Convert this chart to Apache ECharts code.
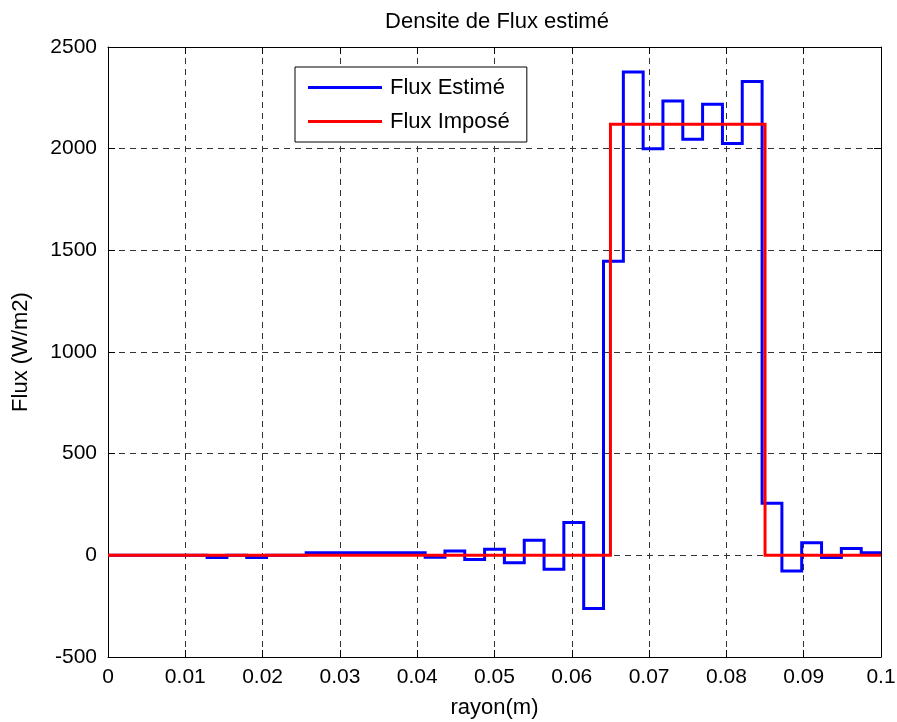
<!DOCTYPE html>
<html>
<head>
<meta charset="utf-8">
<script src="https://cdn.jsdelivr.net/npm/echarts@6/dist/echarts.min.js"></script>
<style>html,body{margin:0;padding:0;background:#fff;}#c{width:897px;height:722px;}</style>
</head>
<body>
<div id="c"></div>
<script>
// Step edges (m) for the estimated flux
const edgesEst = [0, 0.00256, 0.00513, 0.00769, 0.01026, 0.01282, 0.01538, 0.01795, 0.02051, 0.02308,
  0.02564, 0.02821, 0.03077, 0.03333, 0.03590, 0.03846, 0.04103, 0.04359, 0.04615, 0.04872,
  0.05128, 0.05385, 0.05641, 0.05897, 0.06154, 0.06410, 0.06667, 0.06923, 0.07179, 0.07436,
  0.07692, 0.07949, 0.08205, 0.08462, 0.08718, 0.08974, 0.09231, 0.09487, 0.09744, 0.1];
// Estimated flux per step (W/m2)
const fluxEst = [0, 0, 0, 0, 0, -11, 0, -11, 0, 0,
  13, 13, 13, 13, 13, 13, -10, 21, -20, 30,
  -36, 74, -69, 161, -261, 1446, 2377, 2000, 2235, 2046,
  2218, 2025, 2330, 256, -77, 62, -11, 33, 13];
// Imposed flux
const edgesImp = [0, 0.065, 0.085, 0.1];
const fluxImp = [0, 2120, 0];

const xTicks = [0, 0.01, 0.02, 0.03, 0.04, 0.05, 0.06, 0.07, 0.08, 0.09, 0.1];
const yTicks = [-500, 0, 500, 1000, 1500, 2000, 2500];

function stairs(edges, vals) {
  const pts = [];
  for (let i = 0; i < vals.length; i++) {
    pts.push([edges[i], vals[i]]);
    pts.push([edges[i + 1], vals[i]]);
  }
  return pts;
}

const FONT = 'Liberation Sans';
const FS = 22;     // title, legend, axis names
const FST = 21;    // tick labels
const grid = { left: 108, right: 16, top: 47, bottom: 65, containLabel: false, outerBoundsMode: 'none' };
const dash = { color: '#333', width: 1, type: [6, 5] };

const chart = echarts.init(document.getElementById('c'), null, { renderer: 'canvas' });
chart.setOption({
  backgroundColor: '#fff',
  animation: false,
  textStyle: { fontFamily: FONT, color: '#000' },
  title: {
    text: 'Densite de Flux estimé',
    left: 492, top: 6, textAlign: 'center',
    textStyle: { fontFamily: FONT, fontSize: FS, fontWeight: 'normal', color: '#000' }
  },
  grid: grid,
  legend: {
    orient: 'vertical',
    left: 295, top: 67,
    padding: [9, 17, 9, 13],
    itemGap: 11,
    itemWidth: 74, itemHeight: 3,
    icon: 'rect',
    borderColor: '#000', borderWidth: 1, backgroundColor: '#fff',
    textStyle: { fontFamily: FONT, fontSize: FS, color: '#000', lineHeight: 23, padding: [0, 0, 0, 3] },
    data: ['Flux Estimé', 'Flux Imposé']
  },
  xAxis: [{
    type: 'value', min: xTicks[0], max: xTicks[xTicks.length - 1], interval: 0.01,
    position: 'bottom',
    name: 'rayon(m)', nameLocation: 'middle', nameGap: 40,
    nameTextStyle: { fontFamily: FONT, fontSize: FS, color: '#000' },
    axisLine: { show: true, onZero: false, lineStyle: { color: '#000', width: 1 } },
    axisTick: { show: true, inside: true, length: 7, lineStyle: { color: '#000' } },
    axisLabel: { fontFamily: FONT, fontSize: FST, color: '#000', margin: 10,
      formatter: v => String(+v.toFixed(2)) },
    splitLine: { show: true, lineStyle: dash }
  }, {
    type: 'value', min: xTicks[0], max: xTicks[xTicks.length - 1], interval: 0.01,
    position: 'top',
    axisLine: { show: true, onZero: false, lineStyle: { color: '#000', width: 1 } },
    axisTick: { show: true, inside: true, length: 7, lineStyle: { color: '#000' } },
    axisLabel: { show: false }, splitLine: { show: false }
  }],
  yAxis: [{
    type: 'value', min: yTicks[0], max: yTicks[yTicks.length - 1], interval: 500,
    position: 'left',
    name: 'Flux (W/m2)', nameLocation: 'middle', nameGap: 76, nameRotate: 90,
    nameTextStyle: { fontFamily: FONT, fontSize: FS, color: '#000' },
    axisLine: { show: true, onZero: false, lineStyle: { color: '#000', width: 1 } },
    axisTick: { show: true, inside: true, length: 7, lineStyle: { color: '#000' } },
    axisLabel: { fontFamily: FONT, fontSize: FST, color: '#000', margin: 11,
      formatter: v => String(v) },
    splitLine: { show: true, lineStyle: dash }
  }, {
    type: 'value', min: yTicks[0], max: yTicks[yTicks.length - 1], interval: 500,
    position: 'right',
    axisLine: { show: true, onZero: false, lineStyle: { color: '#000', width: 1 } },
    axisTick: { show: true, inside: true, length: 7, lineStyle: { color: '#000' } },
    axisLabel: { show: false }, splitLine: { show: false }
  }],
  series: [{
    name: 'Flux Estimé', type: 'line', xAxisIndex: 0, yAxisIndex: 0,
    data: stairs(edgesEst, fluxEst), showSymbol: false, symbol: 'none',
    lineStyle: { color: '#0000ff', width: 3, join: 'miter' }, itemStyle: { color: '#0000ff' },
    z: 3
  }, {
    name: 'Flux Imposé', type: 'line', xAxisIndex: 0, yAxisIndex: 0,
    data: stairs(edgesImp, fluxImp), showSymbol: false, symbol: 'none',
    lineStyle: { color: '#ff0000', width: 3, join: 'miter' }, itemStyle: { color: '#ff0000' },
    z: 4
  }]
});
</script>
</body>
</html>
